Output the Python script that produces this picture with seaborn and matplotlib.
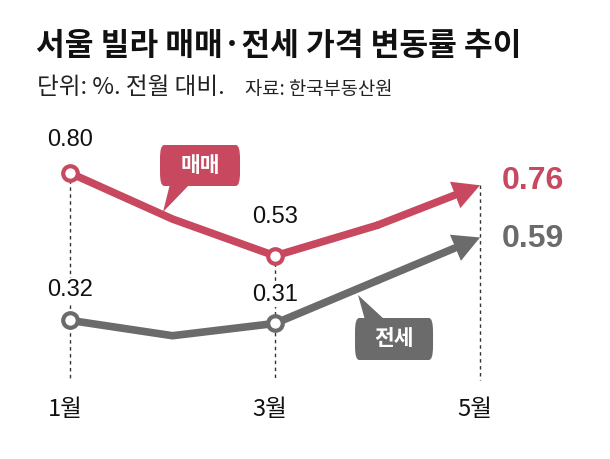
import numpy as np
import pandas as pd
import matplotlib.pyplot as plt
import seaborn as sns
from matplotlib.patches import FancyBboxPatch, Polygon

# data
months = [1, 2, 3, 4, 5]
sale = [0.80, 0.65, 0.53, 0.63, 0.76]
jeonse = [0.32, 0.27, 0.31, 0.45, 0.59]
tick_months = [1, 3, 5]
tick_labels = ['1월', '3월', '5월']

RED = '#c8485f'
GRAY = '#6b6b6b'
NUM_FONT = ['Liberation Sans', 'DejaVu Sans']

sns.set_theme(style='white')
plt.rcParams['font.family'] = ['Noto Sans CJK KR', 'DejaVu Sans']

df = pd.DataFrame({'month': months * 2,
                   'value': sale + jeonse,
                   'kind': ['매매'] * 5 + ['전세'] * 5})

fig = plt.figure(figsize=(6.1, 4.59), dpi=100)
ax = fig.add_axes([0, 0, 1, 1])
ax.set_xlim(0.317, 6.268)
ax.set_ylim(-0.1316, 1.3635)
ax.axis('off')


def to_data(px, py):
    # pixel position in the figure -> data coordinates
    return 0.317 + px / 102.5, 0.80 - (py - 173) / 307


# dashed guides from points down to baseline
base = to_data(0, 380)[1]
for m, top in zip(tick_months, [sale[0], sale[2], sale[4]]):
    ax.plot([m, m], [top, base], ls=(0, (2.5, 2.5)), color='#333333', lw=1, zorder=1)

# lines (stop short of last point; arrow covers the rest)
frac = 0.75
for vals, col, name in [(sale, RED, '매매'), (jeonse, GRAY, '전세')]:
    sub = df[df['kind'] == name].iloc[:4]
    sns.lineplot(data=sub, x='month', y='value', color=col, lw=5.5, ax=ax,
                 solid_capstyle='round', zorder=3, legend=False)
    x0, y0 = months[3], vals[3]
    x1, y1 = months[4], vals[4]
    xm, ym = x0 + (x1 - x0) * frac, y0 + (y1 - y0) * frac
    ax.plot([x0, xm], [y0, ym], color=col, lw=5.5, solid_capstyle='round', zorder=3)
    ax.annotate('', xy=(x1, y1), xytext=(xm - 0.05, ym - 0.05 * (y1 - y0) / (x1 - x0)),
                arrowprops=dict(arrowstyle='-|>,head_length=1.6,head_width=0.85',
                                color=col, lw=0, shrinkA=0, shrinkB=0), zorder=4)
    # hollow markers at 1월, 3월
    ax.scatter([months[0], months[2]], [vals[0], vals[2]], s=110, facecolor='white',
               edgecolor=col, linewidth=3, zorder=5)

# value labels
lab_box = dict(fc='white', ec='none', pad=1)
for (m, v, py) in [(1, sale[0], 140), (3, sale[2], 217), (1, jeonse[0], 290), (3, jeonse[2], 295)]:
    ax.text(m, to_data(0, py)[1], f'{v:.2f}', ha='center', va='center', fontsize=17,
            color='#111111', family=NUM_FONT, bbox=lab_box, zorder=2)
ax.text(to_data(502, 0)[0], to_data(0, 181)[1], f'{sale[4]:.2f}', ha='left', va='center',
        fontsize=23, weight='bold', color=RED, family=NUM_FONT)
ax.text(to_data(502, 0)[0], to_data(0, 239)[1], f'{jeonse[4]:.2f}', ha='left', va='center',
        fontsize=23, weight='bold', color=GRAY, family=NUM_FONT)

# month labels
for m, lab in zip(tick_months, tick_labels):
    ax.text(m - 0.05, to_data(0, 410)[1], lab, ha='center', va='center', fontsize=17,
            color='#111111')


def callout(x0, y0, x1, y1, tip, base_pts, col, text):
    (dx0, dy0), (dx1, dy1) = to_data(x0, y1), to_data(x1, y0)
    ax.add_patch(FancyBboxPatch((dx0, dy0), dx1 - dx0, dy1 - dy0,
                                boxstyle='round,pad=0,rounding_size=0.04',
                                mutation_aspect=1.1, fc=col, ec='none', zorder=6))
    pts = [to_data(*p) for p in base_pts] + [to_data(*tip)]
    ax.add_patch(Polygon(pts, closed=True, fc=col, ec='none', zorder=6))
    cx, cy = to_data((x0 + x1) / 2, (y0 + y1) / 2)
    ax.text(cx, cy, text, ha='center', va='center', color='white', fontsize=15.5,
            weight='bold', zorder=7)


callout(160, 145, 240, 186, (163, 212), [(170, 184), (190, 184)], RED, '매매')
callout(355, 318, 433, 360, (358, 295), [(365, 320), (385, 320)], GRAY, '전세')

# titles
fig.text(36 / 610, 1 - 46 / 459, '서울 빌라 매매·전세 가격 변동률 추이', ha='left', va='center',
         fontsize=22.5, weight='bold', color='#111111')
fig.text(37 / 610, 1 - 88 / 459, '단위: %. 전월 대비.', ha='left', va='center',
         fontsize=17, color='#222222')
fig.text(245 / 610, 1 - 89 / 459, '자료: 한국부동산원', ha='left', va='center',
         fontsize=13.5, color='#222222')

fig.savefig('out.png', dpi=100, facecolor='white')
